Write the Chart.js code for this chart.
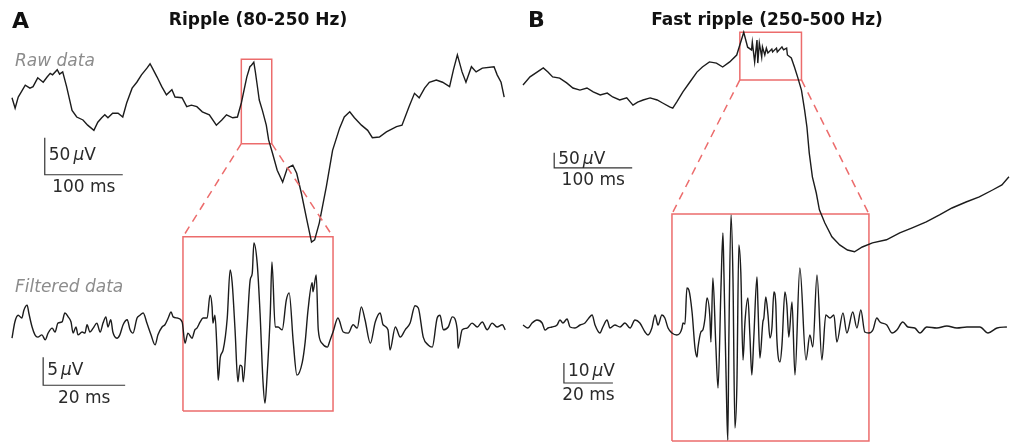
<!DOCTYPE html>
<html>
<head>
<meta charset="utf-8">
<title>Ripple and fast ripple</title>
<script src="https://cdn.jsdelivr.net/npm/chart.js@4.4.1/dist/chart.umd.min.js"></script>
<style>
  html, body { margin: 0; padding: 0; background: #fff; overflow: hidden; }
  #wrap { width: 1010px; height: 444px; }
</style>
</head>
<body>
<div id="wrap"><canvas id="fig" width="1010" height="444"></canvas></div>
<script>
// ---- traces (time in ms, amplitude in µV) ----

// A, raw data
const timeRawA = [
  0, 4, 8, 17, 23, 27, 33, 40, 45, 49, 52, 58, 61, 65, 70, 77, 83, 91, 97, 105,
  110, 115, 119, 123, 129, 136, 142, 147, 154, 160, 166, 173, 177, 180, 186, 192, 198, 205, 209, 218,
  224, 230, 237, 244, 253, 262, 269, 275, 283, 289, 294, 301, 305, 307, 310, 312, 314, 317, 321, 326,
  329, 334, 340, 347, 353, 360, 365, 371, 378, 384, 388, 394, 403, 411, 420, 426, 433, 439, 448, 456,
  462, 471, 480, 493, 500, 509, 516, 522, 529, 535, 544, 552, 561, 566, 571, 577, 582, 589, 595, 603,
  618, 622, 627, 631
];
const voltRawA = [
  3, -11, 4, 20, 16, 18, 30, 24, 31, 36, 34, 41, 35, 38, 18, -14, -23, -27, -34, -41,
  -30, -24, -20, -24, -18, -18, -23, -4, 16, 24, 34, 43, 49, 43, 31, 18, 7, 14, 4, 3,
  -9, -7, -9, -16, -20, -34, -27, -20, -24, -23, -4, 31, 45, 47, 51, 38, 23, 0, -14, -34,
  -54, -72, -95, -111, -92, -88, -99, -126, -162, -192, -189, -166, -117, -68, -38, -23, -16, -24, -34, -41,
  -51, -50, -43, -36, -34, -9, 9, 3, 16, 24, 27, 24, 18, 41, 61, 38, 24, 45, 38, 43,
  45, 34, 24, 4
];

// A, filtered data (80-250 Hz)
const timeFiltA = [
  0, 0.7, 1.5, 2.4, 2.9, 3.7, 4.1, 4.9, 5.6, 6.3,
  7.3, 8.1, 8.8, 9.8, 10.5, 11.2, 12.2, 12.9, 13.7, 14.4,
  14.9, 15.6, 16.1, 17.1, 17.8, 18.3, 19.0, 19.8, 20.7, 21.5,
  22.2, 22.9, 23.4, 24.1, 24.6, 25.6, 26.3, 27.1, 28.1, 28.8,
  29.5, 30.5, 31.2, 32.0, 32.9, 33.9, 34.9, 35.6, 36.6, 37.3,
  38.1, 38.8, 39.3, 40.3, 41.5, 42.2, 42.9, 43.9, 44.6, 45.1,
  45.9, 46.6, 47.6, 48.3, 48.8, 49.0, 49.5, 50.0, 50.3, 50.8,
  51.5, 52.5, 53.2, 53.7, 54.4, 55.1, 55.6, 56.1, 56.4, 57.3,
  58.1, 58.6, 59.0, 59.8, 60.5, 61.2, 61.7, 62.2, 63.0, 63.4,
  64.2, 64.9, 65.9, 66.9, 67.6, 68.6, 69.5, 70.8, 71.5, 72.2,
  73.2, 73.4, 74.2, 74.7, 75.6, 76.9, 77.6, 78.3, 79.5, 80.8,
  82.0, 83.2, 84.2, 85.2, 86.1, 87.4, 88.6, 89.8, 90.5, 91.7,
  92.2, 93.5, 94.7, 95.9, 97.1, 98.3, 99.1, 100.3, 101.5, 102.5,
  103.7, 104.4, 105.2, 106.4, 107.4, 108.6, 108.8, 109.8, 111.0, 112.2,
  113.5, 114.7, 115.9, 117.1, 118.3, 119.6, 120.3
];
const voltFiltA = [
  -2.0, 0.9, 2.1, 1.6, 3.0, 3.9, 2.5, 0, -1.4, -1.8,
  -1.4, -2.3, -1.1, -0.2, -0.9, 0.7, 0.9, 2.5, 1.8, 0.9,
  -1.1, 0, -1.4, -0.9, -1.1, 0.4, -0.9, -0.2, 0.7, -0.9,
  0.7, 1.8, 0, 1.3, -0.9, -2.0, -1.4, 0.4, 1.3, -0.5,
  -1.1, 1.6, 2.1, 2.5, 0.7, -1.4, -3.2, -1.4, 0, 0.4,
  1.6, 2.7, 1.8, 1.6, 0.9, -2.9, -1.1, -2.0, -0.5, -0.2,
  0.9, 1.6, 1.6, 5.7, 3.6, 0.7, 2.1, -4.1, -9.5, -5.4,
  -4.1, 1.6, 10.2, 7.9, -0.5, -9.8, -6.8, -7.1, -9.8, -0.5,
  8.4, 9.6, 15.0, 11.4, 2.5, -9.5, -13.6, -8.9, 2.5, 11.6,
  0, 0, -0.5, 4.8, 6.1, -2.7, -8.6, -6.3, -2.7, 3.0,
  7.9, 6.3, 9.3, -0.5, -2.9, -3.6, -2.3, -0.9, 1.6, -0.9,
  -1.1, 0.4, -0.2, 3.6, 1.3, -2.9, 0.9, 2.5, 0.4, -0.5,
  -4.1, 0, -1.8, -0.5, 0.7, 3.8, 3.4, -1.8, -3.2, -3.6,
  1.6, 2.1, -0.5, 0, 1.8, -0.5, -3.8, -0.5, -0.2, 0.7,
  0, 0.9, -0.5, 0.7, 0, 0.4, -0.5
];

// B, raw data
const timeRawB = [
  0, 9, 18, 26, 32, 38, 47, 56, 64, 73, 82, 90, 99, 108, 115, 124, 133, 141, 147, 154,
  163, 172, 179, 188, 192, 197, 205, 214, 223, 230, 239, 248, 256, 265, 274, 283, 288, 293, 294, 297,
  300, 301, 303, 306, 307, 310, 312, 314, 319, 320, 325, 326, 332, 334, 338, 339, 344, 348, 352, 357,
  361, 364, 367, 371, 376, 380, 387, 396, 406, 416, 425, 435, 448, 466, 483, 499, 517, 534, 550, 568,
  585, 602, 614, 623
];
const voltRawB = [
  50, 77, 93, 107, 93, 77, 73, 57, 40, 33, 40, 27, 17, 23, 10, 0, 7, -17, -7, 0,
  7, 0, -10, -23, -27, -7, 27, 60, 93, 110, 127, 123, 110, 127, 150, 226, 176, 167, 193, 127,
  200, 123, 190, 143, 177, 150, 173, 157, 170, 160, 173, 160, 177, 167, 173, 150, 140, 110, 77, 33,
  -33, -90, -177, -256, -310, -366, -410, -456, -483, -500, -506, -490, -476, -466, -443, -426, -406, -383, -360, -340,
  -323, -300, -283, -256
];

// B, filtered data (250-500 Hz)
const timeFiltB = [
  0, 2.0, 3.7, 5.7, 7.8, 9.0, 10.2, 11.8, 13.9, 15.1,
  16.3, 18.0, 19.2, 21.2, 23.3, 25.3, 26.9, 28.2, 29.4, 31.4,
  32.6, 34.3, 35.5, 37.5, 39.6, 41.6, 43.7, 45.7, 47.7, 49.8,
  51.0, 52.6, 53.9, 55.1, 56.7, 57.9, 59.2, 60.8, 62.8, 64.1,
  64.9, 65.3, 66.1, 66.9, 67.7, 69.0, 70.2, 71.0, 71.4, 72.6,
  73.4, 74.3, 75.1, 76.3, 76.7, 77.5, 78.7, 79.6, 80.8, 81.6,
  82.0, 83.2, 83.6, 84.0, 84.9, 85.7, 86.5, 87.3, 88.1, 88.9,
  89.8, 90.6, 91.8, 92.6, 93.4, 94.2, 95.5, 95.9, 96.7, 97.9,
  98.3, 99.1, 100.0, 100.8, 101.6, 102.4, 103.2, 103.6, 104.9, 105.7,
  106.9, 107.7, 108.5, 109.8, 111.0, 113.0, 115.5, 117.1, 118.3, 120.0,
  122.0, 123.6, 125.3, 126.9, 128.1, 130.6, 132.2, 134.6, 136.3, 137.9,
  139.5, 141.2, 142.8, 144.4, 145.7, 148.5, 150.6, 152.6, 155.0, 157.1,
  159.9, 162.0, 164.8, 168.9, 173.0, 177.1, 181.2, 186.5, 189.8, 193.5,
  197.5
];
const voltFiltB = [
  1, -0.5, 2, 3.5, 2, -1.5, -0.5, 0, 1, 3.5,
  2, 4, 0, -0.5, 1, 2, 4.5, 6, 1, -3,
  0, 3.5, -0.5, 1, 0, 2, -0.5, 3.5, 2, -2.5,
  -4, -0.5, 6, 1, 6, 4.5, -0.5, -3, -4, -3,
  -0.5, 2, 1.5, 19.5, 18.5, 7.5, -10.5, -15, -10.5, -2.5,
  -1.5, 4.5, 14.5, 4.5, -7.5, 24.5, -9, -30.5, 19.5, 47,
  27.5, -42.5, -56.5, -9, 56, 24.5, -50.5, -29, 41, 27.5,
  -16.5, 2.5, 14.5, -4, -24, -5.5, 25, 11, -15.5, 2.5,
  4.5, 15, 6, -5.5, -0.5, 17.5, 11, -5.5, -17.5, -9,
  17.5, 11, -5, 12.5, -24, 29.5, -16.5, -4, -10, 26,
  -16.5, 6, 4.5, 6, -7.5, 7, -3, 7.5, -0.5, 8.5,
  -2.5, -3, -1.5, 4.5, 2.5, 1, -3, -1.5, 2.5, 0,
  -0.5, -3, 0, -0.5, 0.5, -0.5, 0, 0, -3, -0.5,
  0
];

// ---- zoom windows (ms) and their frame extents (µV) ----
const windowRawA = [294, 333];   const frameRawA = [-59, 55];
const windowFiltA = [41.7, 78.3]; const frameFiltA = [-15.0, 16.1];
const windowRawB = [278, 357];   const frameRawB = [67, 226];
const windowFiltB = [60.8, 141.2]; const frameFiltB = [-57, 56.5];

// ---- scale bars: [duration ms, amplitude µV] ----
const barRawA = [100, 50];
const barFiltA = [20, 5];
const barRawB = [100, 50];
const barFiltB = [20, 10];

// ---- texts ----
const panelLetters = ['A', 'B'];
const panelTitles = ['Ripple (80-250 Hz)', 'Fast ripple (250-500 Hz)'];
const rowLabels = ['Raw data', 'Filtered data'];

// ---- layout (pixels) ----
const W = 1010, H = 444;
const INK = '#1c1c1c';
const RED = 'rgb(236,108,108)';
const FONT = '"DejaVu Sans", "Liberation Sans", sans-serif';

// [pixel of t=0, px per ms], [pixel of 0 µV, px per µV]
const placement = {
  rawA:  { x: [12, 0.78], y: [100, 0.74] },
  filtA: { x: [12, 4.1],  y: [327, 5.6] },
  rawB:  { x: [523, 0.78], y: [100, 0.30] },
  filtB: { x: [523, 2.45], y: [327, 2.0] }
};
// where each scale bar corner sits, in the panel's own units
const barAnchor = {
  rawA:  [42, -101],
  filtA: [7.6, -10.4],
  rawB:  [40, -226],
  filtB: [16.7, -28]
};

const scales = {};
Object.keys(placement).forEach(k => {
  const [x0, px] = placement[k].x;
  const [y0, py] = placement[k].y;
  scales['x_' + k] = {
    type: 'linear', axis: 'x', position: 'bottom', display: false, bounds: 'data',
    min: -x0 / px, max: (W - x0) / px
  };
  scales['y_' + k] = {
    type: 'linear', axis: 'y', position: 'left', display: false, bounds: 'data',
    min: (y0 - H) / py, max: y0 / py
  };
});

function pairs(ts, vs) {
  return ts.map((t, i) => ({ x: t, y: vs[i] }));
}

function trace(key, ts, vs, smooth) {
  return {
    data: pairs(ts, vs),
    xAxisID: 'x_' + key, yAxisID: 'y_' + key,
    borderColor: INK, borderWidth: 1.4,
    pointRadius: 0, fill: false, clip: false,
    tension: 0, cubicInterpolationMode: smooth ? 'monotone' : 'default',
    order: 1
  };
}

function frame(key, win, ext) {
  return {
    data: pairs([win[0], win[1], win[1], win[0], win[0]], [ext[0], ext[0], ext[1], ext[1], ext[0]]),
    xAxisID: 'x_' + key, yAxisID: 'y_' + key,
    borderColor: RED, borderWidth: 1.5,
    pointRadius: 0, fill: false, clip: false, tension: 0,
    order: 3
  };
}

function scaleBar(key, bar) {
  const [t, v] = barAnchor[key];
  return {
    data: pairs([t, t, t + bar[0]], [v + bar[1], v, v]),
    xAxisID: 'x_' + key, yAxisID: 'y_' + key,
    borderColor: '#333', borderWidth: 1.2,
    pointRadius: 0, fill: false, clip: false, tension: 0,
    order: 2
  };
}

const bars = { rawA: barRawA, filtA: barFiltA, rawB: barRawB, filtB: barFiltB };
const frames = {
  rawA: [windowRawA, frameRawA], filtA: [windowFiltA, frameFiltA],
  rawB: [windowRawB, frameRawB], filtB: [windowFiltB, frameFiltB]
};

// dashed lines from the small frame to the big one, plus all the text
const figureText = {
  id: 'figureText',
  afterDraw(chart) {
    const ctx = chart.ctx;
    const px = (k, t) => chart.scales['x_' + k].getPixelForValue(t);
    const py = (k, v) => chart.scales['y_' + k].getPixelForValue(v);

    ctx.save();
    ctx.strokeStyle = RED;
    ctx.lineWidth = 1.5;
    ctx.setLineDash([8, 6]);
    [['rawA', 'filtA'], ['rawB', 'filtB']].forEach(([r, f]) => {
      const [rw, re] = frames[r];
      const [fw, fe] = frames[f];
      for (let i = 0; i < 2; i++) {
        ctx.beginPath();
        ctx.moveTo(px(r, rw[i]), py(r, re[0]));
        ctx.lineTo(px(f, fw[i]), py(f, fe[1]));
        ctx.stroke();
      }
    });
    ctx.setLineDash([]);

    ctx.fillStyle = '#111';
    ctx.textBaseline = 'alphabetic';
    ctx.textAlign = 'left';
    ctx.font = 'bold 22px ' + FONT;
    ctx.fillText(panelLetters[0], 12, 28);
    ctx.fillText(panelLetters[1], 528, 27);

    ctx.textAlign = 'center';
    ctx.font = 'bold 17px ' + FONT;
    ctx.fillText(panelTitles[0], 258, 25);
    ctx.fillText(panelTitles[1], 767, 25);

    ctx.textAlign = 'left';
    ctx.fillStyle = '#8c8c8c';
    ctx.font = 'italic 17px ' + FONT;
    ctx.fillText(rowLabels[0], 15, 66);
    ctx.fillText(rowLabels[1], 15, 292);

    ctx.fillStyle = '#2a2a2a';
    Object.keys(bars).forEach(k => {
      const [t, v] = barAnchor[k];
      const [dt, dv] = bars[k];
      const x0 = px(k, t), x1 = px(k, t + dt);
      const yb = py(k, v), yt = py(k, v + dv);
      // amplitude label: number, italic mu, V
      ctx.textBaseline = 'middle';
      ctx.textAlign = 'left';
      let x = x0 + 4;
      const y = (yb + yt) / 2 - 1;
      ctx.font = '17px ' + FONT;
      ctx.fillText(String(dv), x, y);
      x += ctx.measureText(String(dv)).width + 3;
      ctx.font = 'italic 17px ' + FONT;
      ctx.fillText('\u00b5', x, y);
      x += ctx.measureText('\u00b5').width;
      ctx.font = '17px ' + FONT;
      ctx.fillText('V', x, y);
      // duration label
      ctx.textAlign = 'center';
      ctx.fillText(dt + ' ms', (x0 + x1) / 2, yb + 13);
    });
    ctx.restore();
  }
};

const datasets = [
  trace('rawA', timeRawA, voltRawA, false),
  trace('filtA', timeFiltA, voltFiltA, true),
  trace('rawB', timeRawB, voltRawB, false),
  trace('filtB', timeFiltB, voltFiltB, true)
];
Object.keys(bars).forEach(k => datasets.push(scaleBar(k, bars[k])));
Object.keys(frames).forEach(k => datasets.push(frame(k, frames[k][0], frames[k][1])));

new Chart(document.getElementById('fig'), {
  type: 'line',
  data: { datasets },
  options: {
    responsive: false,
    devicePixelRatio: 1,
    animation: false,
    layout: { padding: 0 },
    scales,
    plugins: {
      legend: { display: false },
      tooltip: { enabled: false },
      title: { display: false }
    }
  },
  plugins: [figureText]
});
</script>
</body>
</html>
